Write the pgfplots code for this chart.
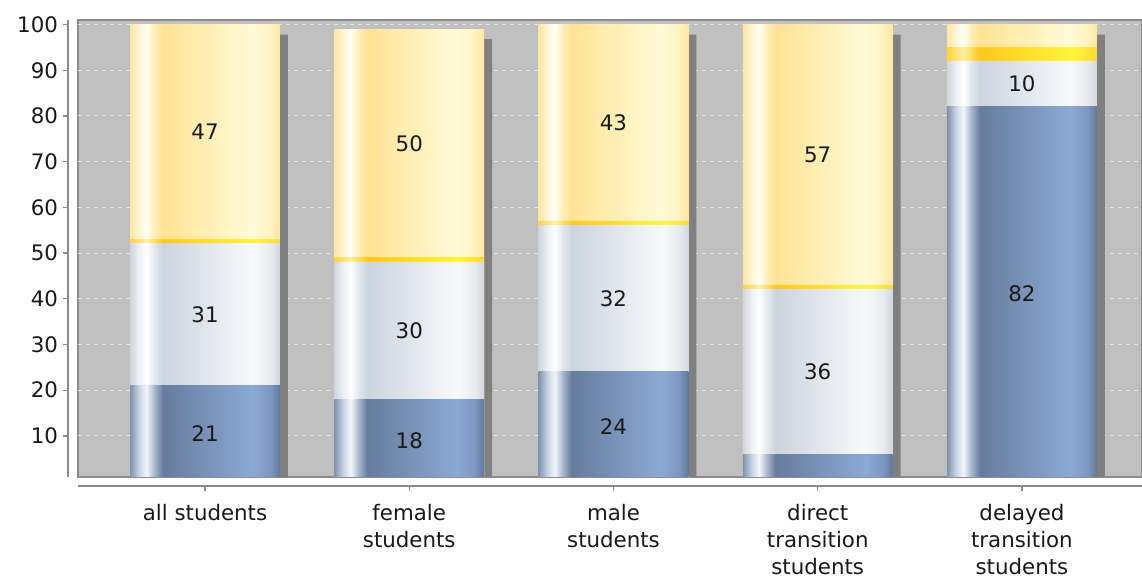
\documentclass[border=0pt]{standalone}
\usepackage{pgfplots}
\usepackage{pgfplotstable}
\pgfplotsset{compat=1.18}
\usepackage{fontspec}
\setmainfont{DejaVu Sans}

% colours
\definecolor{plotbg}{HTML}{C0C0C0}
\definecolor{frameclr}{HTML}{8C8C8C}
\definecolor{axisclr}{HTML}{8A8A8A}
\definecolor{shadowclr}{HTML}{808080}
\definecolor{gridclr}{HTML}{E6E6E6}

\definecolor{bA}{HTML}{7E92B0}\definecolor{bB}{HTML}{C8D4E4}\definecolor{bC}{HTML}{F4F6FA}
\definecolor{bD}{HTML}{A8B8D0}\definecolor{bE}{HTML}{667C9C}\definecolor{bF}{HTML}{8CAAD6}
\definecolor{bG}{HTML}{7C96C0}\definecolor{bH}{HTML}{607898}

\definecolor{wA}{HTML}{D0D4DC}\definecolor{wB}{HTML}{EEF0F4}\definecolor{wC}{HTML}{FFFFFF}
\definecolor{wD}{HTML}{E4E8EE}\definecolor{wE}{HTML}{CCD4DE}\definecolor{wF}{HTML}{F8F9FB}
\definecolor{wG}{HTML}{E8EAEE}\definecolor{wH}{HTML}{D2D6DE}

\definecolor{yA}{HTML}{FDE6A4}\definecolor{yB}{HTML}{FFF6D8}\definecolor{yC}{HTML}{FFFFF4}
\definecolor{yD}{HTML}{FFEEB8}\definecolor{yE}{HTML}{FFE394}\definecolor{yF}{HTML}{FFFBD8}
\definecolor{yG}{HTML}{FFF2C0}\definecolor{yH}{HTML}{FFE6A0}

\definecolor{sA}{HTML}{FFD040}\definecolor{sC}{HTML}{FFF0A0}\definecolor{sE}{HTML}{FFC81E}
\definecolor{sF}{HTML}{FFF53C}\definecolor{sH}{HTML}{FFD838}

% cylinder-like horizontal shadings (relevant part between 25bp and 75bp)
\pgfdeclarehorizontalshading{blueshade}{100bp}{color(0bp)=(bA); color(25bp)=(bA);
  color(28bp)=(bB); color(30.5bp)=(bC); color(33bp)=(bD); color(36bp)=(bE);
  color(66bp)=(bF); color(72bp)=(bG); color(75bp)=(bH); color(100bp)=(bH)}
\pgfdeclarehorizontalshading{whiteshade}{100bp}{color(0bp)=(wA); color(25bp)=(wA);
  color(28bp)=(wB); color(30.5bp)=(wC); color(33bp)=(wD); color(36bp)=(wE);
  color(66bp)=(wF); color(72bp)=(wG); color(75bp)=(wH); color(100bp)=(wH)}
\pgfdeclarehorizontalshading{yellowshade}{100bp}{color(0bp)=(yA); color(25bp)=(yA);
  color(28bp)=(yB); color(30.5bp)=(yC); color(33bp)=(yD); color(36bp)=(yE);
  color(66bp)=(yF); color(72bp)=(yG); color(75bp)=(yH); color(100bp)=(yH)}
\pgfdeclarehorizontalshading{stripeshade}{100bp}{color(0bp)=(sA); color(25bp)=(sA);
  color(30.5bp)=(sC); color(36bp)=(sE);
  color(67bp)=(sF); color(75bp)=(sH); color(100bp)=(sH)}

\pgfplotstableread{
x blue white stripe top
0 21 31 1 47
1 18 30 1 50
2 24 32 1 43
3 6  36 1 57
4 82 10 3 5
}\shares

\newcommand{\lblfont}{\fontsize{16}{20.25}\selectfont}

\pgfplotsset{
  /pgf/number format/assume math mode=true,
  common/.style={
    scale only axis,
    width=798pt, height=342.75pt,
    at={(58.5pt,75.75pt)}, anchor=south west,
    xmin=-0.622, xmax=4.588,
    ymin=1, ymax=101,
  },
  % one bar segment, drawn from the baseline up to the cumulative height
  segment/.style={
    ybar, bar shift=0pt, bar width=0.734,
    draw=none, shade, shading=#1,
  },
  only row/.style={x filter/.expression={\coordindex==#1 ? x : nan}},
  segment label/.style={
    only marks, mark=none,
    nodes near coords, point meta=explicit,
    every node near coord/.append style={anchor=center, font=\lblfont, text=black!90},
  },
}

\begin{document}
\begin{tikzpicture}
\path[use as bounding box] (0,0) rectangle (856.5pt,433.5pt);

% frame, grid, axes and bar shadows
\begin{axis}[
  common,
  axis lines*=left,
  axis x line shift=6.75pt,
  axis y line shift=7.5pt,
  axis line style={axisclr, line width=1.1pt},
  axis background/.style={fill=plotbg, draw=frameclr, line width=1pt},
  ymajorgrids,
  grid style={gridclr, dash pattern=on 3pt off 3pt, line width=0.8pt},
  ytick={10,20,...,100},
  xtick={0,1,2,3,4},
  xticklabels={all students, {female\\students}, {male\\students},
    {direct\\transition\\students}, {delayed\\transition\\students}},
  xticklabel style={align=center, anchor=north, font=\lblfont, text=black!90, yshift=-6pt},
  yticklabel style={font=\lblfont, text=black!90},
  tick align=outside,
  major tick length=4pt,
  tick style={axisclr, line width=1pt},
]
\addplot[ybar, bar shift=0pt, bar width=0.734, fill=shadowclr, draw=none]
  table[x expr=\thisrow{x}+0.039,
        y expr=\thisrow{blue}+\thisrow{white}+\thisrow{stripe}+\thisrow{top}-2.2] {\shares};
\end{axis}

% bars: each category on its own so that the shading spans a single bar
\begin{axis}[common, hide axis]
\pgfplotsinvokeforeach{0,...,4}{
  \addplot[segment=yellowshade, only row=#1]
    table[x=x, y expr=\thisrow{blue}+\thisrow{white}+\thisrow{stripe}+\thisrow{top}] {\shares};
  \addplot[segment=stripeshade, only row=#1]
    table[x=x, y expr=\thisrow{blue}+\thisrow{white}+\thisrow{stripe}] {\shares};
  \addplot[segment=whiteshade, only row=#1]
    table[x=x, y expr=\thisrow{blue}+\thisrow{white}] {\shares};
  \addplot[segment=blueshade, only row=#1]
    table[x=x, y=blue] {\shares};
}
% value labels in the middle of each segment (thin segments stay unlabelled)
\addplot[segment label, skip coords between index={3}{4}]
  table[x=x, y expr=\thisrow{blue}/2, meta=blue] {\shares};
\addplot[segment label] table[x=x, y expr=\thisrow{blue}+\thisrow{white}/2, meta=white] {\shares};
\addplot[segment label, skip coords between index={4}{5}]
  table[x=x, y expr=\thisrow{blue}+\thisrow{white}+\thisrow{stripe}+\thisrow{top}/2, meta=top] {\shares};
\end{axis}
\end{tikzpicture}
\end{document}
